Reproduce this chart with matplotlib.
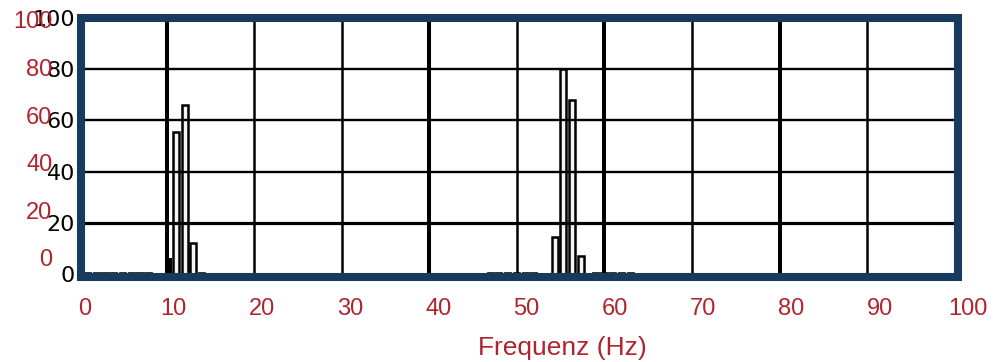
import matplotlib as mpl
mpl.use('Agg')
import matplotlib.pyplot as plt
from matplotlib.patches import Rectangle

# spectrum bars (Hz, amplitude)
peak_freqs = [11.05, 12.05, 13.05, 54.3, 55.3, 56.3, 57.3]
peak_vals = [55.5, 66, 12, 14.5, 80, 68, 7]
spike_freq = [10.4]
spike_val = [6.3]
floor_freqs = [1, 2, 3, 4, 5, 6, 7, 8, 14, 47, 48, 49, 50, 51, 52, 59, 60, 61, 62, 63]
floor_vals = [0.6] * len(floor_freqs)

# grid of the scan, thick lines as in the original
vgrid = [10, 20, 30, 40, 50, 60, 70, 80, 90]
vgrid_thick = [10, 40, 60, 80]
hgrid = [20, 40, 60, 80]
hgrid_thick = [20]

scan_ticks = [0, 20, 40, 60, 80, 100]
red_ticks = [0, 10, 20, 30, 40, 50, 60, 70, 80, 90, 100]
red_yticks = [0, 20, 40, 60, 80, 100]

red = '#B0242E'
navy = '#173A5E'
W, H = 994, 362

fig = plt.figure(figsize=(W / 100, H / 100), dpi=100)

# scanned chart
ax = fig.add_axes([79.2 / W, 1 - 274.3 / H, (954.6 - 79.2) / W, (274.3 - 17.6) / H])
ax.set_xlim(0, 100)
ax.set_ylim(0, 100)
for s in ax.spines.values():
    s.set_visible(False)
ax.set_xticks([])
ax.set_yticks(scan_ticks)
ax.set_yticklabels([str(t) for t in scan_ticks], fontsize=16, color='black',
                   family='DejaVu Sans', weight='medium')
ax.tick_params(axis='y', length=0, pad=3)
ax.get_yticklabels()[0].set_y(1.5)

for v in vgrid:
    ax.axvline(v, color='black', lw=2.9 if v in vgrid_thick else 1.8, zorder=2)
for h in hgrid:
    ax.axhline(h, color='black', lw=2.3 if h in hgrid_thick else 1.7, zorder=2)

ax.bar(peak_freqs, peak_vals, width=0.68, facecolor='#f4f4f4', edgecolor='black',
       lw=1.8, zorder=1)
ax.bar(spike_freq, spike_val, width=0.4, color='black', zorder=3)
ax.bar(floor_freqs, floor_vals, width=0.7, facecolor='white', edgecolor='#222222',
       lw=1.3, zorder=1)

# navy frame around the scan
frame = Rectangle((81 / W, 1 - 277 / H), 877 / W, 259 / H, transform=fig.transFigure,
                  fill=False, edgecolor=navy, lw=5.8, zorder=10)
fig.patches.append(frame)

# red axis drawn over the scan
ax2 = fig.add_axes([85 / W, 1 - 258 / H, (968 - 85) / W, (258 - 20) / H], zorder=5)
ax2.patch.set_visible(False)
for s in ax2.spines.values():
    s.set_visible(False)
ax2.set_xlim(0, 100)
ax2.set_ylim(0, 100)
ax2.set_xticks(red_ticks)
ax2.set_xticklabels([str(t) for t in red_ticks], fontsize=17, color=red,
                    family='Liberation Sans')
ax2.set_yticks(red_yticks)
ax2.set_yticklabels([str(t) for t in red_yticks], fontsize=17, color=red,
                    family='Liberation Sans')
ax2.tick_params(axis='x', length=0, pad=29)
ax2.tick_params(axis='y', length=0, pad=23.5)
ax2.set_xlabel('Frequenz (Hz)', fontsize=19, color=red, family='Liberation Sans')
ax2.xaxis.label.set_va('center')
ax2.xaxis.set_label_coords((562 - 85) / 883, (258 - 348) / 238)

fig.savefig('out.png', dpi=100)
